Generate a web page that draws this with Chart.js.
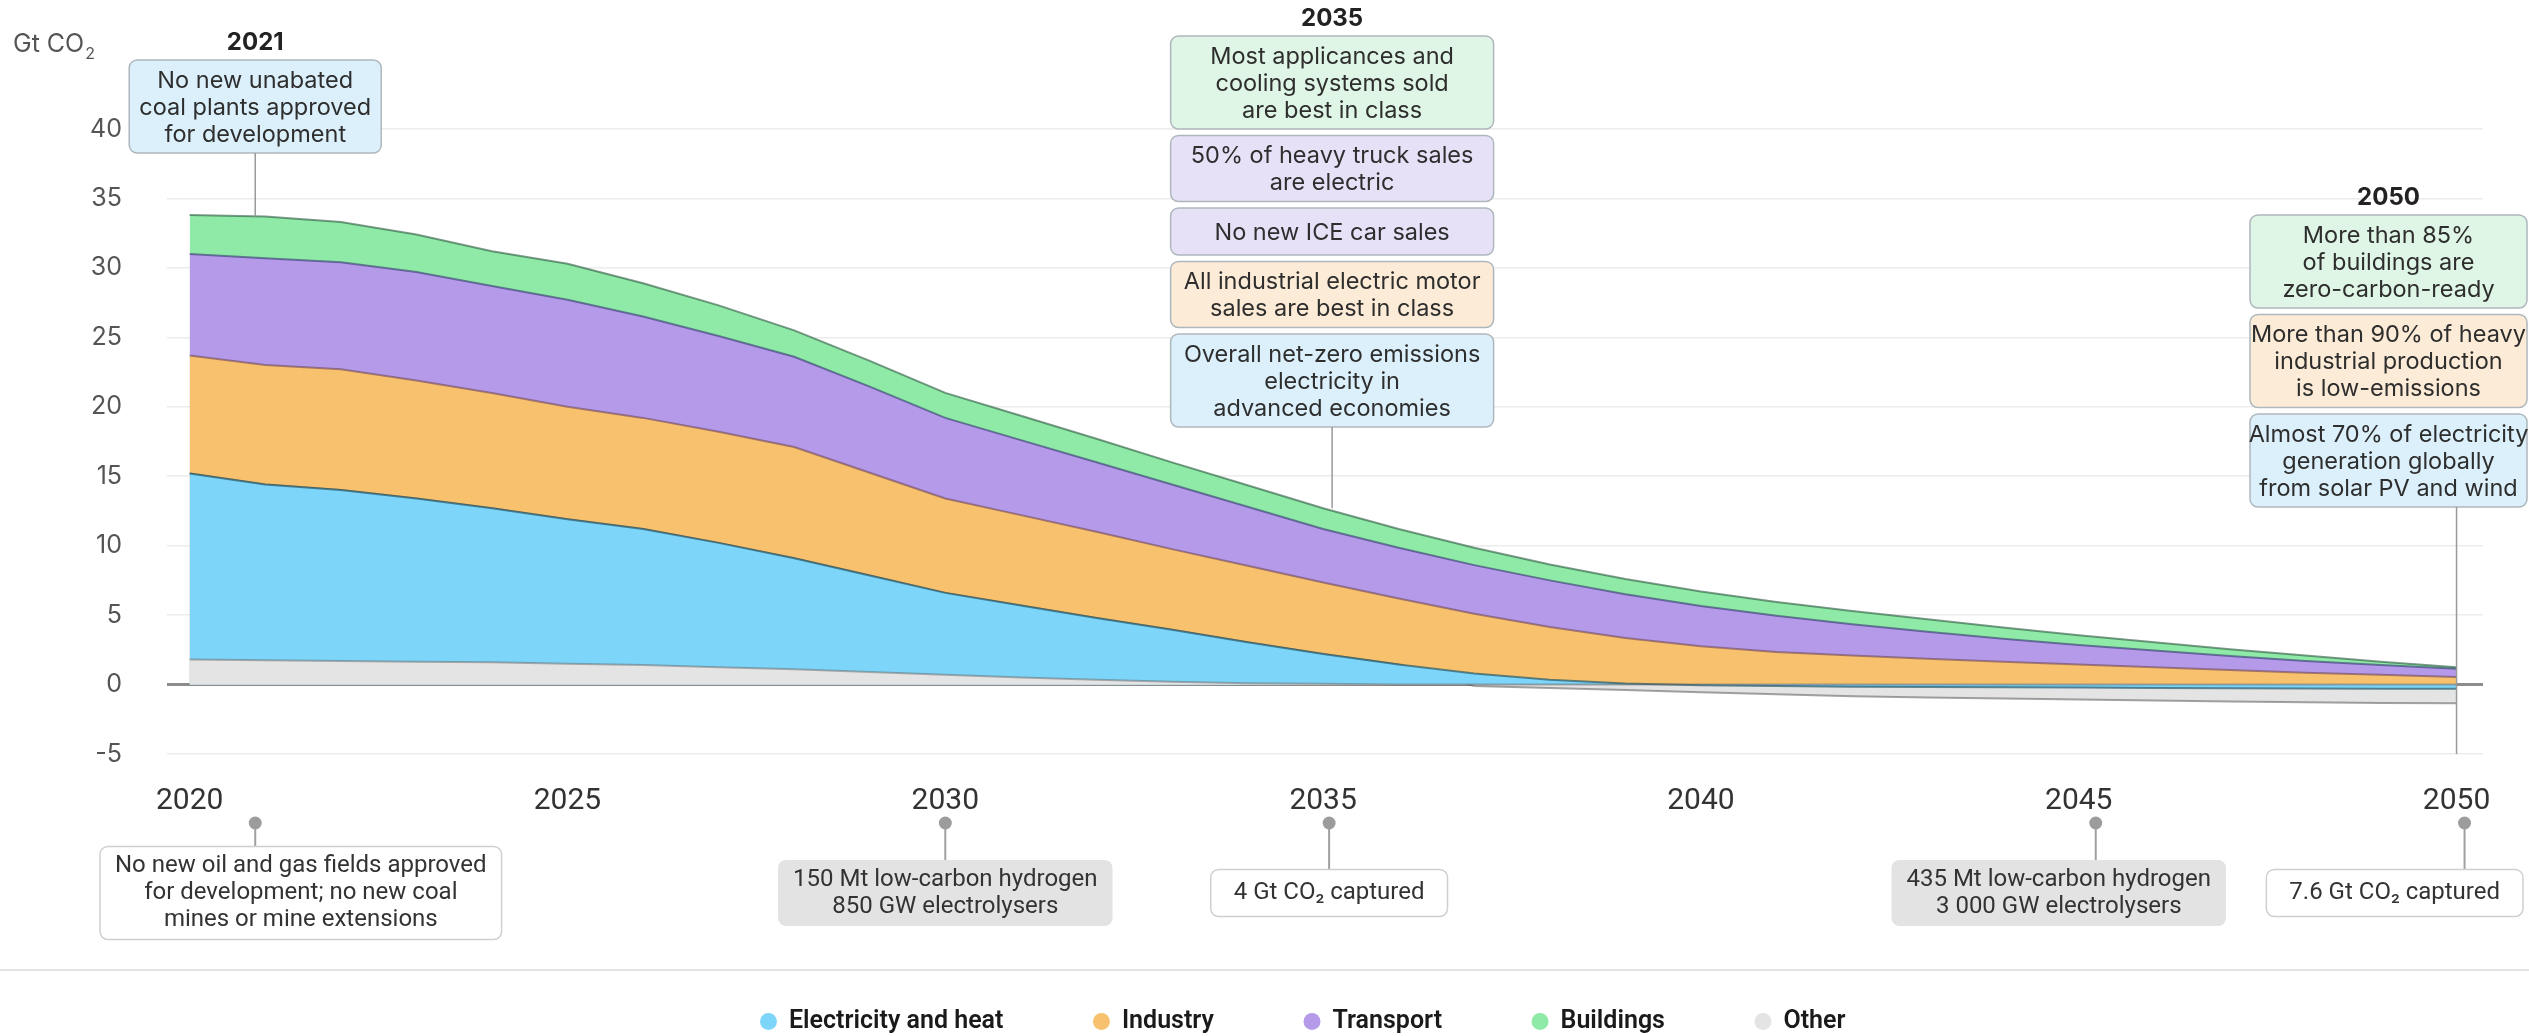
<!DOCTYPE html>
<html>
<head>
<meta charset="utf-8">
<script src="https://cdn.jsdelivr.net/npm/chart.js@4.4.0/dist/chart.umd.min.js"></script>
<style>
  html, body { margin: 0; padding: 0; background: #fff; }
  #wrap { width: 2529px; height: 1036px; position: relative; }
</style>
</head>
<body>
<div id="wrap"><canvas id="emissions"></canvas></div>
<script>
// CO2 emissions by sector, Gt CO2
const years = [2020, 2021, 2022, 2023, 2024, 2025, 2026, 2027, 2028, 2029, 2030,
               2031, 2032, 2033, 2034, 2035, 2036, 2037, 2038, 2039, 2040,
               2041, 2042, 2043, 2044, 2045, 2046, 2047, 2048, 2049, 2050];
const electricity = [13.4, 12.65, 12.3, 11.75, 11.1, 10.4, 9.8, 8.95, 8.0, 6.95, 5.9,
                     5.2, 4.45, 3.75, 2.95, 2.15, 1.45, 0.8, 0.35, 0.08, -0.05,
                     -0.1, -0.15, -0.18, -0.2, -0.22, -0.25, -0.27, -0.28, -0.3, -0.3];
const industry = [8.5, 8.6, 8.7, 8.5, 8.3, 8.1, 8.0, 8.0, 8.0, 7.4, 6.8,
                  6.5, 6.2, 5.8, 5.5, 5.15, 4.75, 4.3, 3.8, 3.27, 2.75,
                  2.35, 2.1, 1.85, 1.65, 1.45, 1.25, 1.05, 0.85, 0.7, 0.55];
const transport = [7.3, 7.7, 7.7, 7.8, 7.7, 7.7, 7.3, 6.9, 6.5, 6.2, 5.8,
                   5.4, 5.0, 4.65, 4.25, 3.85, 3.65, 3.5, 3.35, 3.15, 2.9,
                   2.6, 2.25, 1.95, 1.65, 1.4, 1.2, 1.0, 0.85, 0.7, 0.58];
const buildings = [2.8, 3.0, 2.9, 2.7, 2.5, 2.6, 2.4, 2.2, 1.9, 1.85, 1.8,
                   1.75, 1.7, 1.6, 1.55, 1.5, 1.35, 1.25, 1.15, 1.1, 1.05,
                   1.0, 0.95, 0.9, 0.8, 0.7, 0.6, 0.5, 0.4, 0.25, 0.12];
const other = [1.8, 1.75, 1.7, 1.65, 1.6, 1.5, 1.4, 1.25, 1.1, 0.9, 0.7,
               0.5, 0.35, 0.2, 0.1, 0.05, 0, -0.1, -0.25, -0.4, -0.5,
               -0.6, -0.7, -0.75, -0.8, -0.85, -0.9, -0.95, -1.0, -1.02, -1.05];

const xTicks = [2020, 2025, 2030, 2035, 2040, 2045, 2050];
const yTicks = [-5, 0, 5, 10, 15, 20, 25, 30, 35, 40];
const legendOrder = ['Electricity and heat', 'Industry', 'Transport', 'Buildings', 'Other'];

// milestones above the curve, grouped by year
const topNotes = [
  { year: 2021, items: [
    { sector: 'electricity', lines: ['No new unabated', 'coal plants approved', 'for development'] }
  ] },
  { year: 2035, items: [
    { sector: 'buildings', lines: ['Most applicances and', 'cooling systems sold', 'are best in class'] },
    { sector: 'transport', lines: ['50% of heavy truck sales', 'are electric'] },
    { sector: 'transport', lines: ['No new ICE car sales'] },
    { sector: 'industry', lines: ['All industrial electric motor', 'sales are best in class'] },
    { sector: 'electricity', lines: ['Overall net-zero emissions', 'electricity in', 'advanced economies'] }
  ] },
  { year: 2050, items: [
    { sector: 'buildings', lines: ['More than 85%', 'of buildings are', 'zero-carbon-ready'] },
    { sector: 'industry', lines: ['More than 90% of heavy', 'industrial production', 'is low-emissions'] },
    { sector: 'electricity', lines: ['Almost 70% of electricity', 'generation globally', 'from solar PV and wind'] }
  ] }
];

// milestones under the time axis
const bottomNotes = [
  { year: 2021, kind: 'policy', lines: ['No new oil and gas fields approved', 'for development; no new coal', 'mines or mine extensions'] },
  { year: 2030, kind: 'hydrogen', lines: ['150 Mt low-carbon hydrogen', '850 GW electrolysers'] },
  { year: 2035, kind: 'capture', lines: ['4 Gt CO\u2082 captured'] },
  { year: 2045, kind: 'hydrogen', lines: ['435 Mt low-carbon hydrogen', '3 000 GW electrolysers'] },
  { year: 2050, kind: 'capture', lines: ['7.6 Gt CO\u2082 captured'] }
];

const fills = {
  electricity: '#7dd5f9',
  industry: '#f7c16e',
  transport: '#b59ae9',
  buildings: '#8feaa7',
  other: '#e4e4e4'
};
const noteFills = {
  electricity: '#dcf0fb',
  industry: '#fcebd6',
  transport: '#e7e1f8',
  buildings: '#dff5e5'
};
const sans = 'Inter, Roboto, sans-serif';
const narrow = "'Liberation Sans Narrow', Roboto, sans-serif";

let toPoints = (vals) => years.map((yr, i) => ({ x: yr, y: vals[i] }));

let sectorSet = (label, vals, fill, line) => ({
  label: label,
  data: toPoints(vals),
  backgroundColor: fill,
  borderColor: line,
  borderWidth: 2,
  fill: 'origin',
  pointRadius: 0,
  tension: 0
});

// "Other" is split so its negative part sits below the electricity band
const datasets = [
  sectorSet('Other', other.map(v => Math.max(v, 0)), fills.other, 'rgba(90,90,90,0.45)'),
  sectorSet('Electricity and heat', electricity, fills.electricity, 'rgba(30,80,95,0.65)'),
  sectorSet('Other (below zero)', other.map(v => Math.min(v, 0)), fills.other, 'rgba(90,90,90,0.55)'),
  sectorSet('Industry', industry, fills.industry, 'rgba(110,70,90,0.6)'),
  sectorSet('Transport', transport, fills.transport, 'rgba(50,55,110,0.6)'),
  sectorSet('Buildings', buildings, fills.buildings, 'rgba(40,85,60,0.6)')
];

let totalAt = (yr) => {
  let i = years.indexOf(yr);
  return [electricity, industry, transport, buildings, other]
    .reduce((s, arr) => s + Math.max(arr[i], 0), 0);
};

let roundBox = (ctx, x, y, w, h, fill, stroke) => {
  ctx.beginPath();
  ctx.roundRect(x, y, w, h, 8);
  ctx.fillStyle = fill;
  ctx.fill();
  if (stroke) {
    ctx.lineWidth = 1.5;
    ctx.strokeStyle = stroke;
    ctx.stroke();
  }
};

let writeLines = (ctx, lines, cx, cy, lineH) => {
  lines.forEach((t, i) => {
    ctx.fillText(t, cx, cy + (i - (lines.length - 1) / 2) * lineH);
  });
};

let noteHeight = (n) => Math.max(47, n * 27 + 12);

// box placement for the milestone groups (pixels)
const topLayout = {
  2021: { top: 60, width: 252, shift: -10 },
  2035: { top: 36, width: 323, shift: 9 },
  2050: { top: 215, width: 277, shift: 0 }
};
const bottomLayout = {
  2021: { shift: -10, offset: 0 },
  2035: { shift: 6, offset: 0 },
  2045: { shift: 17, offset: -37 },
  2050: { shift: 8, offset: 0 }
};

const notesPlugin = {
  id: 'notes',
  afterLayout(chart) {
    // legend sits a little right of centre
    if (chart.legend) chart.legend.left = 123;
  },
  afterDraw(chart) {
    const { ctx, width, scales } = chart;
    const xs = scales.x, ys = scales.y;
    ctx.save();

    // unit label
    ctx.fillStyle = '#555';
    ctx.textAlign = 'left';
    ctx.textBaseline = 'middle';
    ctx.font = '400 25px ' + sans;
    ctx.fillText('Gt CO', 13, 44);
    let uw = ctx.measureText('Gt CO').width;
    ctx.font = '400 16px ' + sans;
    ctx.fillText('2', 14 + uw, 54);

    // boxes above the areas
    topNotes.forEach((group) => {
      let lay = topLayout[group.year];
      let px = xs.getPixelForValue(group.year) + lay.shift;
      let cx = Math.min(Math.max(px, lay.width / 2 + 2), width - lay.width / 2 - 2);
      let top = lay.top;

      ctx.textAlign = 'center';
      ctx.fillStyle = '#222';
      ctx.font = '700 24px ' + sans;
      ctx.fillText(String(group.year), cx, top - 17);

      group.items.forEach((item) => {
        let h = noteHeight(item.lines.length);
        roundBox(ctx, cx - lay.width / 2, top, lay.width, h, noteFills[item.sector], '#aeb7bd');
        ctx.fillStyle = '#2e2e2e';
        ctx.font = '400 23.5px ' + sans;
        writeLines(ctx, item.lines, cx, top + h / 2 + 1, 27);
        top += h + 6.5;
      });

      let from = top - 6.5;
      let to = group.year === years[years.length - 1] ? ys.bottom : ys.getPixelForValue(totalAt(group.year));
      ctx.beginPath();
      ctx.moveTo(px, from);
      ctx.lineTo(px, to);
      ctx.lineWidth = 1.5;
      ctx.strokeStyle = '#9a9a9a';
      ctx.stroke();
    });

    // boxes under the axis
    ctx.font = '400 24px ' + narrow;
    let boxes = bottomNotes.map((n) => {
      let lay = bottomLayout[n.year] || { shift: 0, offset: 0 };
      let px = xs.getPixelForValue(n.year) + lay.shift;
      let pad = n.lines.length === 1 ? 46 : 30;
      let w = Math.max(...n.lines.map(t => ctx.measureText(t).width)) + pad;
      let h = noteHeight(n.lines.length);
      return { n, px, w, h, cx: Math.max(px + lay.offset, 100 + w / 2) };
    });
    for (let i = boxes.length - 1; i >= 0; i--) {
      let limit = i === boxes.length - 1 ? width - 6 : boxes[i + 1].cx - boxes[i + 1].w / 2 - 14;
      boxes[i].cx = Math.min(boxes[i].cx, limit - boxes[i].w / 2);
    }
    boxes.forEach((b) => {
      let top = 893 - b.h / 2;
      ctx.beginPath();
      ctx.moveTo(b.px, 823);
      ctx.lineTo(b.px, top);
      ctx.lineWidth = 2;
      ctx.strokeStyle = '#a0a0a0';
      ctx.stroke();
      ctx.beginPath();
      ctx.arc(b.px, 823, 6.5, 0, Math.PI * 2);
      ctx.fillStyle = '#9c9c9c';
      ctx.fill();

      if (b.n.kind === 'hydrogen') {
        roundBox(ctx, b.cx - b.w / 2, top, b.w, b.h, '#e3e3e3', null);
      } else {
        roundBox(ctx, b.cx - b.w / 2, top, b.w, b.h, '#ffffff', '#cfcfcf');
      }
      ctx.fillStyle = '#333';
      ctx.textAlign = 'center';
      writeLines(ctx, b.n.lines, b.cx, 893, 27);
    });

    // rule above the legend
    ctx.beginPath();
    ctx.moveTo(0, 970);
    ctx.lineTo(width, 970);
    ctx.lineWidth = 2;
    ctx.strokeStyle = '#e3e3e3';
    ctx.stroke();

    ctx.restore();
  }
};

new Chart(document.getElementById('emissions'), {
  type: 'line',
  data: { datasets: datasets },
  plugins: [notesPlugin],
  options: {
    responsive: true,
    maintainAspectRatio: false,
    animation: false,
    devicePixelRatio: 1,
    layout: { padding: { top: 129, right: 46, left: 0, bottom: -8 } },
    scales: {
      x: {
        type: 'linear',
        min: 2019.7,
        max: 2050.35,
        grid: { display: false },
        border: { display: false },
        afterBuildTicks: (s) => { s.ticks = xTicks.map(v => ({ value: v })); },
        afterFit: (s) => { s.height = 165; },
        ticks: {
          padding: 21,
          color: '#333',
          font: { family: narrow, size: 30 },
          callback: (v) => String(v)
        }
      },
      y: {
        stacked: true,
        min: -5,
        max: 40,
        afterBuildTicks: (s) => { s.ticks = yTicks.map(v => ({ value: v })); },
        afterFit: (s) => { s.width = 167; },
        grid: {
          drawTicks: false,
          color: (c) => c.tick && c.tick.value === 0 ? '#8c8c8c' : '#ececec',
          lineWidth: (c) => c.tick && c.tick.value === 0 ? 3 : 1.5
        },
        border: { display: false },
        ticks: {
          padding: 45,
          color: '#555',
          font: { family: sans, size: 25 }
        }
      }
    },
    plugins: {
      tooltip: { enabled: false },
      legend: {
        position: 'bottom',
        labels: {
          usePointStyle: true,
          pointStyle: 'circle',
          boxWidth: 16,
          boxHeight: 12,
          padding: 90,
          color: '#1a1a1a',
          font: { family: narrow, size: 25, weight: '600' },
          generateLabels: (chart) => Chart.defaults.plugins.legend.labels.generateLabels(chart)
            .filter(it => legendOrder.includes(it.text) && it.datasetIndex !== 2)
            .sort((a, b) => legendOrder.indexOf(a.text) - legendOrder.indexOf(b.text))
            .map(it => Object.assign(it, { strokeStyle: it.fillStyle, lineWidth: 0 }))
        }
      }
    }
  }
});
</script>
</body>
</html>
